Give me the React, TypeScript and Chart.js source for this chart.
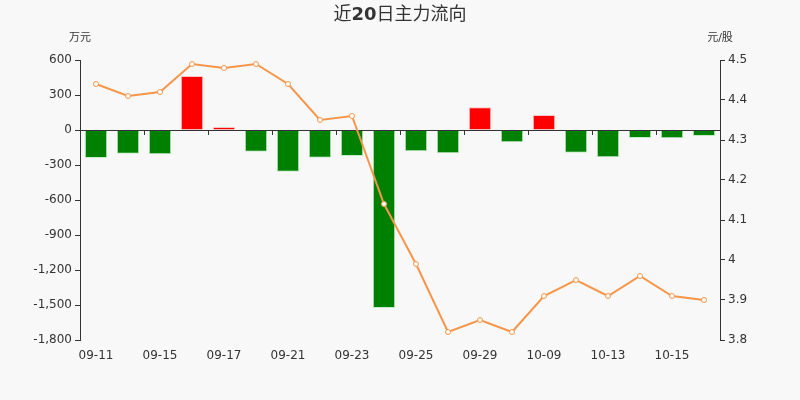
import { Chart, registerables } from 'chart.js'
import { useEffect, useRef } from 'react'

Chart.register(...registerables)

const dates = [
  '09-11', '09-14', '09-15', '09-16', '09-17', '09-18', '09-21', '09-22', '09-23', '09-24',
  '09-25', '09-28', '09-29', '09-30', '10-09', '10-12', '10-13', '10-14', '10-15', '10-16'
]

// 主力净流入 (万元)
const mainFlow = [
  -240, -203, -208, 463, 26, -186, -357, -237, -223, -1526,
  -183, -200, 194, -106, 129, -194, -234, -69, -71, -51
]

// 收盘价 (元/股)
const closePrice = [
  4.44, 4.41, 4.42, 4.49, 4.48, 4.49, 4.44, 4.35, 4.36, 4.14,
  3.99, 3.82, 3.85, 3.82, 3.91, 3.95, 3.91, 3.96, 3.91, 3.9
]

const FONT = '"DejaVu Sans", "Noto Sans CJK SC", sans-serif'
const TEXT = '#333'
const AXIS = '#333'

const decorPlugin = {
  id: 'decor',
  afterDatasetDraw(chart: any, args: any) {
    if (args.index !== 0) return
    const { ctx, chartArea, scales } = chart
    const y0 = scales.y.getPixelForValue(0)
    ctx.save()
    ctx.strokeStyle = AXIS
    ctx.lineWidth = 1
    ctx.beginPath()
    ctx.moveTo(chartArea.left, Math.round(y0) + 0.5)
    ctx.lineTo(chartArea.right, Math.round(y0) + 0.5)
    // tick marks between every second category
    const x = scales.x
    const step = x.getPixelForValue(1) - x.getPixelForValue(0)
    for (let i = 2; i < dates.length; i += 2) {
      const px = Math.round(x.getPixelForValue(i) - step / 2) + 0.5
      ctx.moveTo(px, Math.round(y0))
      ctx.lineTo(px, Math.round(y0) + 5)
    }
    ctx.stroke()
    ctx.restore()
  },
  afterDraw(chart: any) {
    const { ctx, chartArea } = chart
    ctx.save()
    ctx.fillStyle = TEXT
    ctx.textBaseline = 'middle'
    // title with bold digits
    const parts: [string, string][] = [
      ['近', 'normal'],
      ['20', 'bold'],
      ['日主力流向', 'normal']
    ]
    let total = 0
    const widths = parts.map(([t, w]) => {
      ctx.font = `${w} 18px ${FONT}`
      const m = ctx.measureText(t).width
      total += m
      return m
    })
    let cx = chart.width / 2 - total / 2
    ctx.textAlign = 'left'
    parts.forEach(([t, w], i) => {
      ctx.font = `${w} 18px ${FONT}`
      ctx.fillText(t, cx, 15)
      cx += widths[i]
    })
    // axis units
    ctx.font = `11px ${FONT}`
    ctx.textAlign = 'center'
    ctx.fillText('万元', chartArea.left, 38)
    ctx.fillText('元/股', chartArea.right, 38)
    ctx.restore()
  }
}

const bgPlugin = {
  id: 'bg',
  beforeDraw(chart: any) {
    const { ctx } = chart
    ctx.save()
    ctx.fillStyle = '#f8f8f8'
    ctx.fillRect(0, 0, chart.width, chart.height)
    ctx.restore()
  }
}

export default function App() {
  const canvasRef = useRef<HTMLCanvasElement>(null)

  useEffect(() => {
    document.body.style.margin = '0'
    if (!canvasRef.current) return () => {}
    const chart = new Chart(canvasRef.current, {
      type: 'bar',
      data: {
        labels: dates,
        datasets: [
          {
            type: 'bar',
            data: mainFlow,
            yAxisID: 'y',
            order: 1,
            backgroundColor: mainFlow.map(v => (v >= 0 ? '#ff0000' : '#008000')),
            borderColor: mainFlow.map(v =>
              v >= 0 ? 'rgba(255,190,190,0.9)' : 'rgba(190,235,190,0.9)'
            ),
            borderWidth: 1,
            categoryPercentage: 1,
            barPercentage: 0.7
          },
          {
            type: 'line',
            data: closePrice,
            yAxisID: 'y1',
            order: 0,
            borderColor: '#f7964a',
            borderWidth: 2,
            pointRadius: 2.5,
            pointBackgroundColor: '#ffffff',
            pointBorderColor: '#f7964a',
            pointBorderWidth: 1,
            tension: 0
          } as any
        ]
      },
      options: {
        animation: false,
        responsive: true,
        maintainAspectRatio: false,
        layout: { padding: { top: 60, left: 0, right: 0, bottom: 0 } },
        plugins: {
          legend: { display: false },
          title: { display: false },
          tooltip: { enabled: false }
        },
        scales: {
          x: {
            offset: true,
            grid: { display: false },
            border: { display: false },
            ticks: {
              autoSkip: false,
              maxRotation: 0,
              padding: 1,
              color: TEXT,
              font: { family: FONT, size: 12 },
              callback: (_v: any, i: number) => (i % 2 === 0 ? dates[i] : '')
            },
            afterFit: (s: any) => {
              s.height = 60
            }
          },
          y: {
            position: 'left',
            min: -1800,
            max: 600,
            grid: { drawOnChartArea: false, tickLength: 5, color: AXIS },
            border: { display: true, color: AXIS },
            ticks: {
              stepSize: 300,
              padding: 3,
              color: TEXT,
              font: { family: FONT, size: 12 },
              callback: (v: any) => Number(v).toLocaleString('en-US')
            },
            afterFit: (s: any) => {
              s.width = 80
            }
          },
          y1: {
            position: 'right',
            min: 3.8,
            max: 4.5,
            grid: { drawOnChartArea: false, tickLength: 5, color: AXIS },
            border: { display: true, color: AXIS },
            ticks: {
              stepSize: 0.1,
              padding: 3,
              color: TEXT,
              font: { family: FONT, size: 12 },
              callback: (v: any) => String(Number(Number(v).toFixed(1)))
            },
            afterFit: (s: any) => {
              s.width = 80
            }
          }
        }
      },
      plugins: [bgPlugin, decorPlugin]
    })
    return () => {
      chart.destroy()
    }
  }, [])

  return (
    <div style={{ position: 'absolute', left: 0, top: 0, width: 800, height: 400 }}>
      <canvas ref={canvasRef} />
    </div>
  )
}
